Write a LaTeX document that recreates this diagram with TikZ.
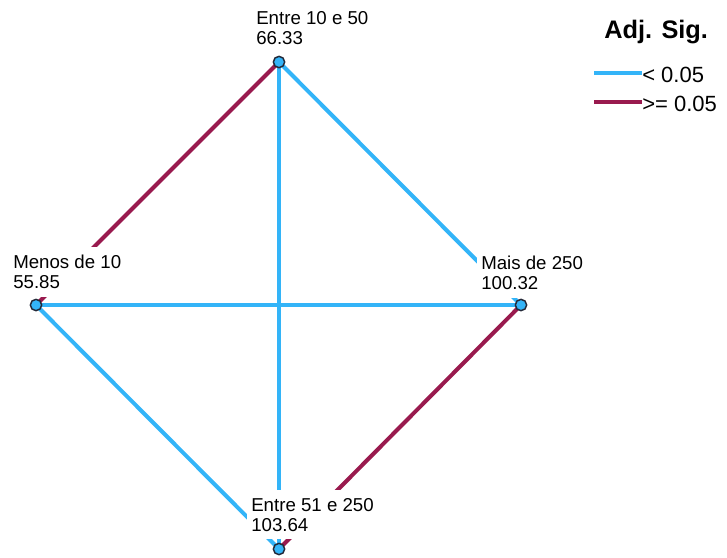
\documentclass[tikz,border=0pt]{standalone}
\usepackage{fontspec}
\setmainfont{Liberation Sans}
\usepackage{tikz}
\usetikzlibrary{positioning}
\definecolor{sigblue}{RGB}{51,180,248}
\definecolor{sigred}{RGB}{153,26,78}
\definecolor{dotline}{RGB}{35,40,55}

\begin{document}
\begin{tikzpicture}[
    x=0.75pt, y=-0.75pt,
    lo/.style={line width=3pt, sigblue},
    hi/.style={line width=3pt, sigred},
    lbl/.style={
      fill=white, anchor=north west, align=left, inner xsep=3pt, inner ysep=6pt,
      font=\fontsize{14}{15}\selectfont
    },
    pt/.style={
      circle, draw=dotline, line width=1.1pt, fill=sigblue,
      inner sep=0pt, minimum size=8.5pt
    },
    leg/.style={anchor=west, inner sep=0pt, font=\fontsize{16.5}{18}\selectfont},
  ]
    \useasboundingbox (0,0) rectangle (727,557);
    \coordinate (pa) at (279,62);
    \coordinate (pb) at (36,305);
    \coordinate (pc) at (521,305);
    \coordinate (pd) at (279,549);
    \draw[hi] (pa) -- (pb);
    \draw[lo] (pa) -- (pc);
    \draw[lo] (pa) -- (pd);
    \draw[lo] (pb) -- (pc);
    \draw[lo] (pb) -- (pd);
    \draw[hi] (pc) -- (pd);
    \node[lbl] (la) at (252,3) {Entre 10 e 50\\66.33};
    \node[lbl] (lb) at (9,247) {Menos de 10\\55.85};
    \node[lbl] (lc) at (477,248) {Mais de 250\\100.32};
    \node[lbl] (ld) at (247,490) {Entre 51 e 250\\103.64};
    \node[pt] (entre1050) at (pa) {};
    \node[pt] (menos10) at (pb) {};
    \node[pt] (mais250) at (pc) {};
    \node[pt] (entre51250) at (pd) {};
    \node[anchor=base west, inner sep=0pt, font=\fontsize{19}{20}\selectfont\bfseries]
      (title) at (604,38) {Adj. Sig.};
    \coordinate (ka) at (594,73);
    \coordinate (kb) at (594,102);
    \node[leg] (ta) at (642,75) {< 0.05};
    \node[leg] (tb) at (642,104) {>= 0.05};
    \draw[lo] (ka) -- (ka -| ta.west);
    \draw[hi] (kb) -- (kb -| tb.west);
  \end{tikzpicture}
\end{document}
